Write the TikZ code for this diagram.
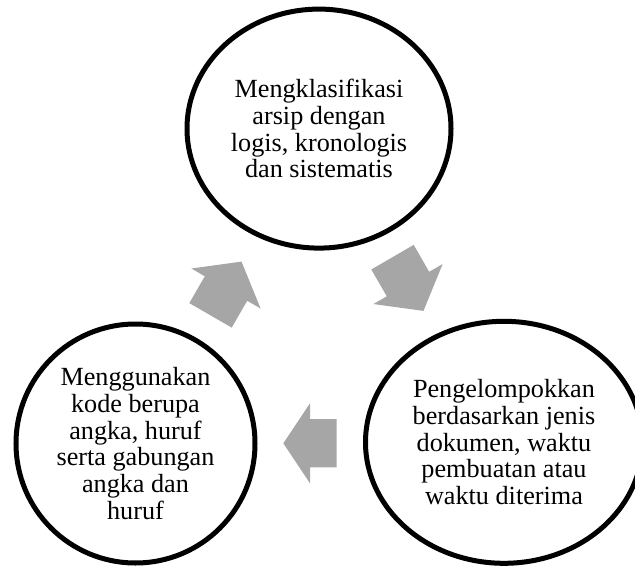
\documentclass[tikz,border=0pt]{standalone}
\usepackage{fontspec}
\setmainfont{Liberation Serif}
\usetikzlibrary{shapes.geometric}
\definecolor{arrowgray}{RGB}{166,166,166}
\begin{document}
\begin{tikzpicture}[x=1pt,y=-1pt,
  stage/.style={ellipse, draw=black, line width=5pt, inner sep=0pt, align=center,
    font=\fontsize{26.2}{26.7}\selectfont},
  cyclearrow/.style={fill=arrowgray, draw=none}]
\useasboundingbox (0,0) rectangle (635,567);

\node[stage, minimum width=264pt, minimum height=239pt] (top) at (319,128.6)
  {Mengklasifikasi\\arsip dengan\\logis, kronologis\\dan sistematis};
\node[stage, minimum width=277pt, minimum height=242pt] (right) at (504,442.3)
  {Pengelompokkan\\berdasarkan jenis\\dokumen, waktu\\pembuatan atau\\waktu diterima};
\node[stage, minimum width=239pt, minimum height=239pt] (left) at (135.5,443.5)
  {Menggunakan\\kode berupa\\angka, huruf\\serta gabungan\\angka dan\\huruf};

% arrow: top -> right
\fill[cyclearrow] (413.7,244.9) -- (429.2,271.8) -- (442.6,264.05) -- (423.5,310.9)
  -- (373.4,304.05) -- (386.8,296.3) -- (371.3,269.5) -- cycle;
% arrow: right -> left
\fill[cyclearrow] (336.7,419) -- (310,419) -- (310,403.3) -- (283.3,443.3)
  -- (310,483.3) -- (310,467.3) -- (336.7,467.3) -- cycle;
% arrow: left -> top
\fill[cyclearrow] (189.3,303.1) -- (204.8,276.3) -- (191.4,268.5) -- (241.5,261.6)
  -- (260.6,308.5) -- (247.2,300.8) -- (231.7,327.6) -- cycle;
\end{tikzpicture}
\end{document}
